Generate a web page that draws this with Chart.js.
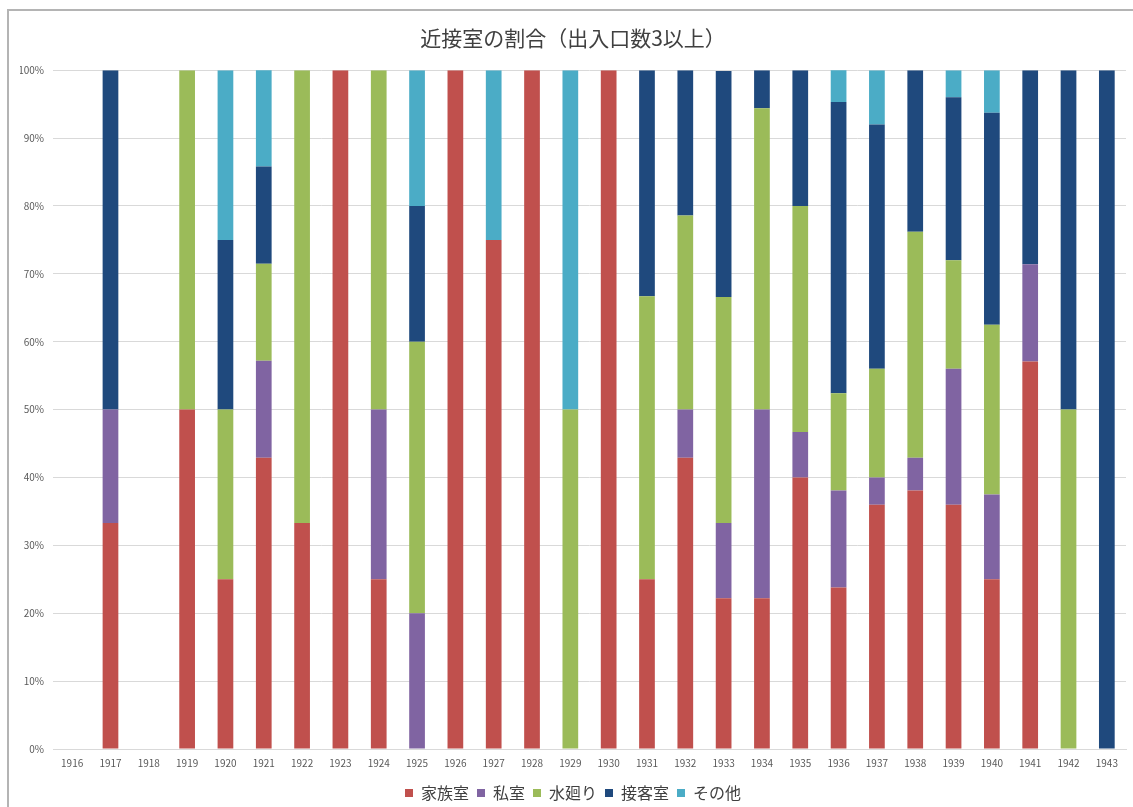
<!DOCTYPE html>
<html lang="ja">
<head>
<meta charset="utf-8">
<title>近接室の割合（出入口数3以上）</title>
<script src="https://cdn.jsdelivr.net/npm/chart.js@4/dist/chart.umd.min.js"></script>
<style>
  html, body { margin: 0; padding: 0; background: #ffffff; overflow: hidden; }
  #wrap { position: relative; width: 1133px; height: 807px; }
  #frame {
    position: absolute; left: 7px; top: 9px; width: 1200px; height: 900px;
    border-left: 2px solid #b4b4b4; border-top: 2px solid #b4b4b4;
    box-sizing: border-box; pointer-events: none;
  }
  canvas { position: absolute; left: 0; top: 0; }
</style>
</head>
<body>
<div id="wrap">
  <div id="frame"></div>
  <canvas id="chart" width="1133" height="807"></canvas>
</div>
<script>
// Survey years (one stacked bar per year)
const years = ['1916','1917','1918','1919','1920','1921','1922','1923','1924','1925',
               '1926','1927','1928','1929','1930','1931','1932','1933','1934','1935',
               '1936','1937','1938','1939','1940','1941','1942','1943'];

// Share of each adjacent-room type, in percent of the year's total
const kazokushitsu = [0, 33.3, 0, 50, 25, 42.9, 33.3, 100, 25, 0,
                      100, 75, 100, 0, 100, 25, 42.9, 22.2, 22.2, 40,
                      23.8, 36, 38.1, 36, 25, 57.1, 0, 0];
const shishitsu    = [0, 16.7, 0, 0, 0, 14.3, 0, 0, 25, 20,
                      0, 0, 0, 0, 0, 0, 7.1, 11.1, 27.8, 6.7,
                      14.3, 4, 4.8, 20, 12.5, 14.3, 0, 0];
const mizumawari   = [0, 0, 0, 50, 25, 14.3, 66.7, 0, 50, 40,
                      0, 0, 0, 50, 0, 41.7, 28.6, 33.3, 44.4, 33.3,
                      14.3, 16, 33.3, 16, 25, 0, 50, 0];
const sekkyakushitsu = [0, 50, 0, 0, 25, 14.3, 0, 0, 0, 20,
                      0, 0, 0, 0, 0, 33.3, 21.4, 33.3, 5.6, 20,
                      42.9, 36, 23.8, 24, 31.25, 28.6, 50, 100];
const sonota       = [0, 0, 0, 0, 25, 14.3, 0, 0, 0, 20,
                      0, 25, 0, 50, 0, 0, 0, 0, 0, 0,
                      4.8, 8, 0, 4, 6.25, 0, 0, 0];

const seriesNames = ['家族室', '私室', '水廻り', '接客室', 'その他'];
const yTicks = [0, 10, 20, 30, 40, 50, 60, 70, 80, 90, 100];

const palette = ['#C0504D', '#8064A2', '#9BBB59', '#1F497D', '#4BACC6'];
const seriesData = [kazokushitsu, shishitsu, mizumawari, sekkyakushitsu, sonota];

const JP = '"Noto Sans CJK JP", "Noto Sans", sans-serif';

new Chart(document.getElementById('chart'), {
  type: 'bar',
  data: {
    labels: years,
    datasets: seriesNames.map((name, i) => ({
      label: name,
      data: seriesData[i],
      backgroundColor: palette[i],
      borderWidth: 0,
      categoryPercentage: 1,
      barPercentage: 0.41
    }))
  },
  options: {
    responsive: false,
    animation: false,
    devicePixelRatio: 1,
    layout: { padding: { left: 20, right: 7, top: 0, bottom: -4 } },
    plugins: {
      title: {
        display: true,
        text: '近接室の割合（出入口数3以上）',
        color: '#404040',
        font: { family: JP, size: 21, weight: 'normal' },
        padding: { top: 25, bottom: 20 }
      },
      legend: {
        position: 'bottom',
        labels: {
          color: '#404040',
          font: { family: JP, size: 16 },
          boxWidth: 8,
          boxHeight: 8,
          padding: 8
        }
      },
      tooltip: { enabled: false }
    },
    scales: {
      x: {
        stacked: true,
        grid: { display: false, drawTicks: false },
        border: { display: true, color: '#d9d9d9' },
        ticks: {
          color: '#595959',
          font: { family: JP, size: 10 },
          padding: 8,
          maxRotation: 0,
          autoSkip: false
        }
      },
      y: {
        stacked: true,
        min: 0,
        max: 100,
        afterFit(scale) { scale.width = 33; },
        afterBuildTicks(scale) { scale.ticks = yTicks.map(v => ({ value: v })); },
        grid: { color: '#d9d9d9', drawTicks: false },
        border: { display: false },
        ticks: {
          color: '#595959',
          font: { family: JP, size: 10 },
          padding: 9,
          callback: v => v + '%'
        }
      }
    }
  }
});
</script>
</body>
</html>
